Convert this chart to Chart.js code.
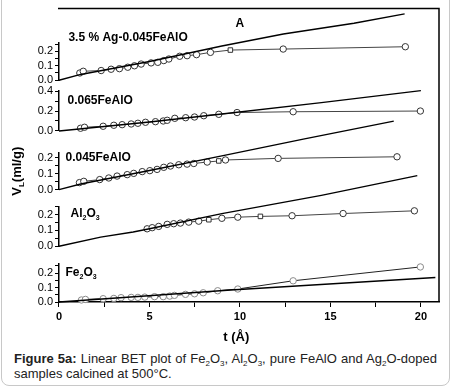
<!DOCTYPE html>
<html>
<head>
<meta charset="utf-8">
<script src="https://cdn.jsdelivr.net/npm/chart.js@4/dist/chart.umd.min.js"></script>
<style>
  body { margin: 0; background: #fff; font-family: "Liberation Sans", Arial, sans-serif; }
  #wrap { position: relative; width: 453px; height: 388px; overflow: hidden; }
  #frame { position: absolute; left: 1px; top: -8px; width: 449px; height: 394px; border: 1px solid #c8c8c8; border-radius: 8px; box-sizing: border-box; }
  canvas { position: absolute; left: 0; top: 0; }
  .cap { position: absolute; left: 14px; top: 351px; width: 423px; font-size: 13px; line-height: 15px; text-align: justify; color: #222; }
  .cap sub { font-size: 8px; line-height: 0; vertical-align: -3px; }
</style>
</head>
<body>
<div id="wrap">
  <div id="frame"></div>
  <canvas id="bet" width="453" height="345"></canvas>
  <div class="cap"><b>Figure 5a:</b> Linear BET plot of Fe<sub>2</sub>O<sub>3</sub>, Al<sub>2</sub>O<sub>3</sub>, pure FeAlO and Ag<sub>2</sub>O-doped samples calcined at 500°C.</div>
</div>
<script>
// t (Å) vs V_L (ml/g), one panel per sample

// 3.5 % Ag-0.045FeAlO
const agX = [1.15, 1.34, 2.33, 2.88, 3.34, 3.80, 4.17, 4.54, 5.09, 5.46, 5.79, 6.07, 6.67, 7.08, 7.60, 8.37, 9.47, 12.39, 19.14];
const agY = [0.050, 0.062, 0.067, 0.076, 0.080, 0.090, 0.100, 0.112, 0.120, 0.124, 0.136, 0.147, 0.166, 0.170, 0.177, 0.193, 0.209, 0.216, 0.232];
const agFitX = [0, 1.2, 5, 9, 12.4, 16.3, 19.1];
const agFitY = [0, 0.04, 0.13, 0.237, 0.32, 0.395, 0.46];

// 0.065FeAlO
const f65X = [1.19, 1.41, 2.44, 3.03, 3.49, 3.99, 4.36, 4.78, 5.33, 5.76, 5.98, 6.40, 7.00, 7.49, 8.00, 8.83, 9.84, 12.94, 19.97];
const f65Y = [0.027, 0.037, 0.047, 0.057, 0.063, 0.070, 0.077, 0.087, 0.093, 0.100, 0.107, 0.127, 0.133, 0.140, 0.153, 0.167, 0.185, 0.193, 0.200];
const f65FitX = [0, 5, 9, 14.5, 20];
const f65FitY = [0, 0.09, 0.17, 0.285, 0.405];

// 0.045FeAlO
const f45X = [1.13, 1.37, 2.25, 2.75, 3.21, 3.77, 4.13, 4.60, 5.02, 5.42, 5.79, 6.16, 6.62, 7.08, 7.45, 8.19, 8.83, 9.20, 12.11, 18.68];
const f45Y = [0.044, 0.052, 0.063, 0.073, 0.085, 0.094, 0.102, 0.113, 0.119, 0.127, 0.140, 0.148, 0.156, 0.160, 0.164, 0.173, 0.180, 0.186, 0.196, 0.206];
const f45FitX = [0, 1.2, 5, 9, 13.5, 18.5];
const f45FitY = [0, 0.035, 0.12, 0.212, 0.317, 0.43];

// Al2O3
const alX = [4.87, 5.15, 5.51, 5.98, 6.34, 6.71, 7.17, 7.72, 8.28, 9.00, 9.88, 11.13, 12.88, 15.70, 19.64];
const alY = [0.110, 0.117, 0.125, 0.138, 0.142, 0.146, 0.152, 0.158, 0.167, 0.176, 0.183, 0.188, 0.192, 0.206, 0.223];
const alFitX = [0, 2.3, 4.1, 5, 9, 14.5, 19.8];
const alFitY = [0, 0.058, 0.09, 0.11, 0.205, 0.32, 0.444];

// Fe2O3
const feX = [1.24, 1.46, 2.44, 3.03, 3.43, 3.99, 4.36, 4.74, 5.28, 5.76, 6.12, 6.38, 6.99, 7.49, 7.97, 8.77, 9.88, 12.94, 19.97];
const feY = [0.014, 0.018, 0.023, 0.025, 0.030, 0.032, 0.032, 0.034, 0.037, 0.037, 0.041, 0.046, 0.053, 0.057, 0.064, 0.078, 0.090, 0.147, 0.243];
const feFitX = [0, 9.5, 20.8];
const feFitY = [0, 0.083, 0.17];

const xTicks = [0, 5, 10, 15, 20];

// which markers are drawn as squares (style only)
const squares = { yAg: [16], y45: [16], yAl: [8, 11] };

const FONT = '"Liberation Sans", Arial, sans-serif';

function pts(xs, ys) {
    return xs.map((x, i) => ({ x: x, y: ys[i] }));
}

function fitSet(xs, ys, axis) {
    return {
        data: pts(xs, ys), yAxisID: axis, showLine: true,
        borderColor: '#000', borderWidth: 1.4, pointRadius: 0, clip: false
    };
}

function pointSet(xs, ys, axis, line, stroke) {
    const sq = squares[axis] || [];
    return {
        data: pts(xs, ys), yAxisID: axis, showLine: true,
        borderColor: line, borderWidth: 1, pointRadius: 3.2,
        pointStyle: ctx => sq.includes(ctx.dataIndex) ? 'rect' : 'circle',
        pointBackgroundColor: '#fff', pointBorderColor: stroke, pointBorderWidth: 1, clip: false
    };
}

// one small y axis per sample, stacked on the left (defined bottom -> top)
function panelAxis(max, step, weight) {
    return {
        type: 'linear', position: 'left', stack: 'v', stackWeight: weight,
        min: 0, max: max,
        border: { color: '#000', width: 1.5 },
        grid: { drawOnChartArea: false, tickLength: 4, tickColor: '#000' },
        ticks: {
            stepSize: step, includeBounds: false, autoSkip: false, padding: 2,
            color: '#000', font: { family: FONT, size: 11 },
            callback: v => {
                const r = Math.round(v * 10);
                if (Math.abs(v * 10 - r) > 1e-6) return '';
                if (step === 0.1 && r % 2 !== 0) return '';
                return v.toFixed(1);
            }
        },
        afterFit: s => { s.width = 59; }
    };
}

function gapAxis(weight) {
    return {
        type: 'linear', position: 'left', stack: 'v', stackWeight: weight,
        border: { display: false }, grid: { display: false }, ticks: { display: false }
    };
}

function drawSub(ctx, parts, x, y, size) {
    // parts: [text, isSub]
    let cx = x;
    parts.forEach(p => {
        if (p[1]) {
            ctx.font = 'bold ' + Math.round(size * 0.62) + 'px ' + FONT;
            ctx.fillText(p[0], cx, y + size * 0.35);
        } else {
            ctx.font = 'bold ' + size + 'px ' + FONT;
            ctx.fillText(p[0], cx, y);
        }
        cx += ctx.measureText(p[0]).width;
    });
}

const labelsPlugin = {
    id: 'labels',
    afterDraw(chart) {
        const ctx = chart.ctx;
        const a = chart.chartArea;
        const s = chart.scales;
        ctx.save();
        // frame top and right
        ctx.strokeStyle = '#000';
        ctx.lineWidth = 1.5;
        ctx.beginPath();
        ctx.moveTo(a.left - 1, a.top);
        ctx.lineTo(a.right, a.top);
        ctx.lineTo(a.right, a.bottom);
        ctx.stroke();

        ctx.fillStyle = '#000';
        ctx.textBaseline = 'middle';
        ctx.textAlign = 'left';
        const X = v => s.x.getPixelForValue(v);
        drawSub(ctx, [['3.5 % Ag-0.045FeAlO', 0]], X(0.52), s.yAg.getPixelForValue(0.297), 12);
        drawSub(ctx, [['0.065FeAlO', 0]], X(0.47), s.y65.getPixelForValue(0.30), 12);
        drawSub(ctx, [['0.045FeAlO', 0]], X(0.36), s.y45.getPixelForValue(0.20), 12);
        drawSub(ctx, [['Al', 0], ['2', 1], ['O', 0], ['3', 1]], X(0.64), s.yAl.getPixelForValue(0.205), 12);
        drawSub(ctx, [['Fe', 0], ['2', 1], ['O', 0], ['3', 1]], X(0.36), s.yFe.getPixelForValue(0.205), 12);

        ctx.textAlign = 'center';
        ctx.font = 'bold 12px ' + FONT;
        ctx.fillText('A', X(10), s.yAg.getPixelForValue(0.39));

        // x title
        ctx.font = 'bold 13px ' + FONT;
        ctx.fillText('t (Å)', X(9.8), a.bottom + 35);

        // y title, rotated, centred on the middle panel
        const yc = (s.y45.top + s.y45.bottom) / 2;
        ctx.translate(17, yc);
        ctx.rotate(-Math.PI / 2);
        ctx.textAlign = 'left';
        ctx.font = 'bold 13px ' + FONT;
        const w1 = ctx.measureText('V').width;
        ctx.font = 'bold 8px ' + FONT;
        const w2 = ctx.measureText('L').width;
        ctx.font = 'bold 13px ' + FONT;
        const w3 = ctx.measureText('(ml/g)').width;
        drawSub(ctx, [['V', 0], ['L', 1], ['(ml/g)', 0]], -(w1 + w2 + w3) / 2, 0, 13);
        ctx.restore();
    }
};

new Chart(document.getElementById('bet'), {
    type: 'scatter',
    data: {
        datasets: [
            fitSet(agFitX, agFitY, 'yAg'),
            fitSet(f65FitX, f65FitY, 'y65'),
            fitSet(f45FitX, f45FitY, 'y45'),
            fitSet(alFitX, alFitY, 'yAl'),
            fitSet(feFitX, feFitY, 'yFe'),
            pointSet(agX, agY, 'yAg', '#444', '#333'),
            pointSet(f65X, f65Y, 'y65', '#444', '#333'),
            pointSet(f45X, f45Y, 'y45', '#444', '#333'),
            pointSet(alX, alY, 'yAl', '#444', '#333'),
            pointSet(feX, feY, 'yFe', '#222', '#8a8a8a')
        ]
    },
    options: {
        responsive: false,
        animation: false,
        layout: { padding: { left: 0, right: 14, top: 7, bottom: 0 } },
        plugins: { legend: { display: false }, tooltip: { enabled: false } },
        scales: {
            x: {
                type: 'linear', min: 0, max: 21,
                border: { color: '#000', width: 1.5 },
                grid: { drawOnChartArea: false, tickLength: 5, tickColor: '#000' },
                ticks: {
                    stepSize: 2.5, includeBounds: false, autoSkip: false, maxRotation: 0, padding: 3,
                    color: '#000', font: { family: FONT, size: 11, weight: 'bold' },
                    callback: v => xTicks.includes(v) ? String(v) : ''
                },
                afterFit: s => { s.height = 43; }
            },
            yFe: panelAxis(0.262, 0.05, 38),
            g4: gapAxis(18),
            yAl: panelAxis(0.25, 0.05, 40),
            g3: gapAxis(17),
            y45: panelAxis(0.231, 0.05, 37),
            g2: gapAxis(22),
            y65: panelAxis(0.4, 0.1, 40),
            g1: gapAxis(11),
            yAg: panelAxis(0.262, 0.05, 38),
            g0: gapAxis(34)
        }
    },
    plugins: [labelsPlugin]
});
</script>
</body>
</html>
